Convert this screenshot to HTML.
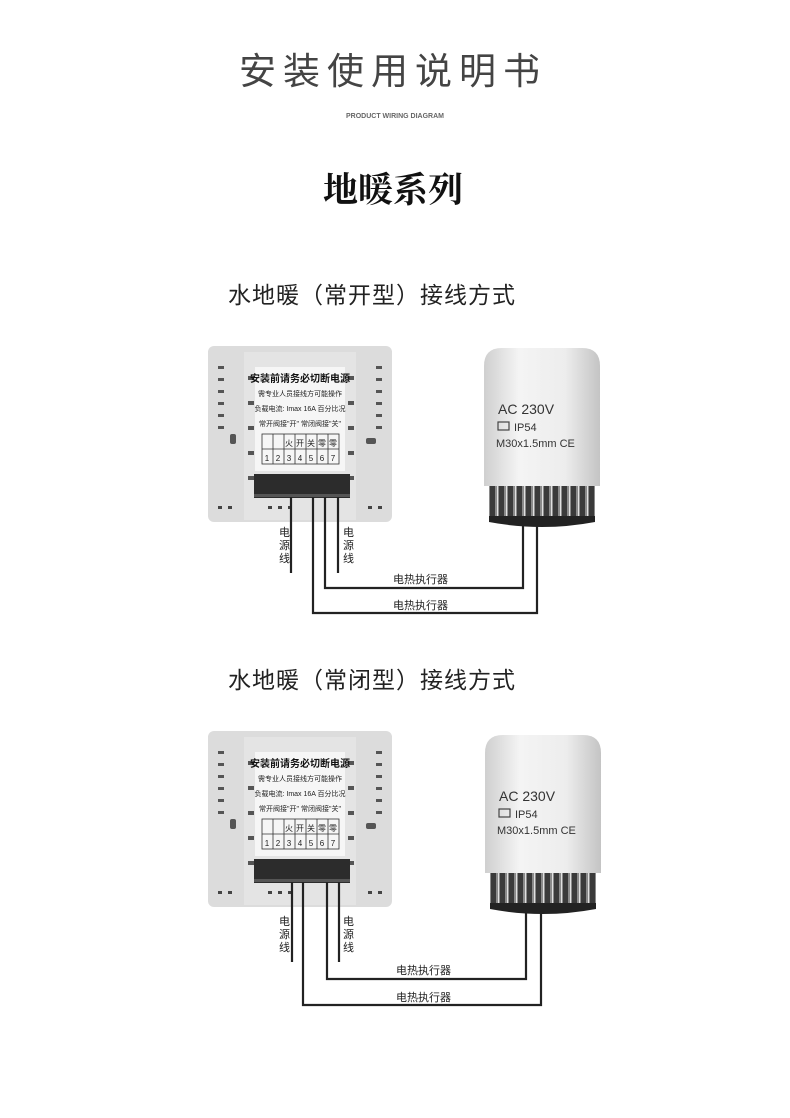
<!DOCTYPE html>
<html><head><meta charset="utf-8"><style>
html,body{margin:0;padding:0;background:#fff}
svg{display:block}
.cjk{font-family:"Liberation Sans","Noto Sans CJK SC",sans-serif}
</style></head><body>
<svg width="790" height="1118" viewBox="0 0 790 1118" xmlns="http://www.w3.org/2000/svg">
<defs>
<linearGradient id="cyl" x1="0" x2="1" y1="0" y2="0">
<stop offset="0" stop-color="#cfcfcf"/><stop offset="0.3" stop-color="#f4f4f4"/><stop offset="0.7" stop-color="#ededed"/><stop offset="1" stop-color="#c4c4c4"/>
</linearGradient>
<pattern id="knurl" width="9" height="40" patternUnits="userSpaceOnUse">
<rect width="9" height="40" fill="#3a3a3a"/><rect x="2" width="4" height="40" fill="#8a8a8a"/><rect x="4" width="1" height="40" fill="#e0e0e0"/>
</pattern>
<g id="dev">
<rect x="0" y="0" width="184" height="176" rx="6" fill="#dcdcdc"/>
<rect x="36" y="6" width="112" height="168" fill="#e4e4e4"/>
<g fill="#555">
<rect x="10" y="20" width="6" height="3"/><rect x="10" y="32" width="6" height="3"/><rect x="10" y="44" width="6" height="3"/><rect x="10" y="56" width="6" height="3"/><rect x="10" y="68" width="6" height="3"/><rect x="10" y="80" width="6" height="3"/>
<rect x="168" y="20" width="6" height="3"/><rect x="168" y="32" width="6" height="3"/><rect x="168" y="44" width="6" height="3"/><rect x="168" y="56" width="6" height="3"/><rect x="168" y="68" width="6" height="3"/><rect x="168" y="80" width="6" height="3"/>
<rect x="40" y="30" width="6" height="4"/><rect x="40" y="55" width="6" height="4"/><rect x="40" y="80" width="6" height="4"/><rect x="40" y="105" width="6" height="4"/><rect x="40" y="130" width="6" height="4"/>
<rect x="140" y="30" width="6" height="4"/><rect x="140" y="55" width="6" height="4"/><rect x="140" y="80" width="6" height="4"/><rect x="140" y="105" width="6" height="4"/><rect x="140" y="130" width="6" height="4"/>
<rect x="22" y="88" width="6" height="10" rx="2"/><rect x="158" y="92" width="10" height="6" rx="2"/>
</g>
<rect x="47" y="21" width="90" height="104" fill="#f6f6f6"/>
<text x="92" y="36" font-size="10" text-anchor="middle" fill="#111" class="cjk" font-weight="bold">安装前请务必切断电源</text>
<text x="92" y="50" font-size="7" text-anchor="middle" fill="#222" class="cjk">需专业人员接线方可能操作</text>
<text x="92" y="65" font-size="7" text-anchor="middle" fill="#222" class="cjk">负载电流: Imax 16A 百分比况</text>
<text x="92" y="80" font-size="7" text-anchor="middle" fill="#222" class="cjk">常开阀接"开" 常闭阀接"关"</text>
<g stroke="#333" stroke-width="0.8" fill="none">
<rect x="54" y="88" width="77" height="30"/><line x1="54" y1="103" x2="131" y2="103"/>
<line x1="65" y1="88" x2="65" y2="118"/><line x1="76" y1="88" x2="76" y2="118"/><line x1="87" y1="88" x2="87" y2="118"/><line x1="98" y1="88" x2="98" y2="118"/><line x1="109" y1="88" x2="109" y2="118"/><line x1="120" y1="88" x2="120" y2="118"/>
</g>
<g font-size="8" text-anchor="middle" fill="#222" class="cjk">
<text x="81" y="100">火</text><text x="92" y="100">开</text><text x="103" y="100">关</text><text x="114" y="100">零</text><text x="125" y="100">零</text>
<text x="59" y="115">1</text><text x="70" y="115">2</text><text x="81" y="115">3</text><text x="92" y="115">4</text><text x="103" y="115">5</text><text x="114" y="115">6</text><text x="125" y="115">7</text>
</g>
<rect x="46" y="128" width="96" height="24" fill="#2c2c2c"/>
<rect x="46" y="148" width="96" height="3" fill="#555"/>
<g fill="#444"><rect x="10" y="160" width="4" height="3"/><rect x="20" y="160" width="4" height="3"/><rect x="60" y="160" width="4" height="3"/><rect x="70" y="160" width="4" height="3"/><rect x="80" y="160" width="4" height="3"/><rect x="160" y="160" width="4" height="3"/><rect x="170" y="160" width="4" height="3"/></g>
</g>
<g id="act">
<path d="M0 18 Q0 0 18 0 L98 0 Q116 0 116 18 L116 138 L0 138 Z" fill="url(#cyl)"/>
<rect x="5" y="138" width="106" height="36" fill="url(#knurl)"/>
<path d="M5 174 Q58 184 111 174 L111 168 L5 168 Z" fill="#222"/>
<text x="14" y="66" font-size="14" font-family="Liberation Sans,sans-serif" fill="#333">AC 230V</text>
<rect x="14" y="74" width="11" height="8" fill="none" stroke="#444" stroke-width="1.2"/>
<text x="30" y="83" font-size="11" font-family="Liberation Sans,sans-serif" fill="#333">IP54</text>
<text x="12" y="99" font-size="11" font-family="Liberation Sans,sans-serif" fill="#333">M30x1.5mm CE</text>
</g>
</defs>

<text x="393" y="84" font-size="37" text-anchor="middle" letter-spacing="7" fill="#444" class="cjk">安装使用说明书</text>
<text x="395" y="118" font-size="7" text-anchor="middle" fill="#666" font-family="Liberation Sans,sans-serif" font-weight="bold">PRODUCT WIRING DIAGRAM</text>
<text x="393" y="202" font-size="35" text-anchor="middle" font-weight="bold" fill="#111" font-family="Liberation Serif,'Noto Serif CJK SC',serif">地暖系列</text>

<text x="228" y="303" font-size="23" letter-spacing="1" fill="#222" class="cjk">水地暖（常开型）接线方式</text>
<use href="#dev" x="208" y="346"/>
<use href="#act" x="484" y="348"/>
<g stroke="#222" stroke-width="2.2" fill="none">
<polyline points="291,497 291,573"/><polyline points="338,497 338,573"/>
<polyline points="325,497 325,588 523,588 523,522"/>
<polyline points="313,497 313,613 537,613 537,522"/>
</g>
<g font-size="11" fill="#222" class="cjk">
<text x="279" y="536">电</text><text x="279" y="549">源</text><text x="279" y="562">线</text>
<text x="343" y="536">电</text><text x="343" y="549">源</text><text x="343" y="562">线</text>
<text x="393" y="583">电热执行器</text><text x="393" y="609">电热执行器</text>
</g>

<text x="228" y="688" font-size="23" letter-spacing="1" fill="#222" class="cjk">水地暖（常闭型）接线方式</text>
<use href="#dev" x="208" y="731"/>
<use href="#act" x="485" y="735"/>
<g stroke="#222" stroke-width="2.2" fill="none">
<polyline points="292,882 292,962"/><polyline points="339,882 339,962"/>
<polyline points="327,882 327,979 526,979 526,909"/>
<polyline points="303,882 303,1005 541,1005 541,909"/>
</g>
<g font-size="11" fill="#222" class="cjk">
<text x="279" y="925">电</text><text x="279" y="938">源</text><text x="279" y="951">线</text>
<text x="343" y="925">电</text><text x="343" y="938">源</text><text x="343" y="951">线</text>
<text x="396" y="974">电热执行器</text><text x="396" y="1001">电热执行器</text>
</g>
</svg>
</body></html>
